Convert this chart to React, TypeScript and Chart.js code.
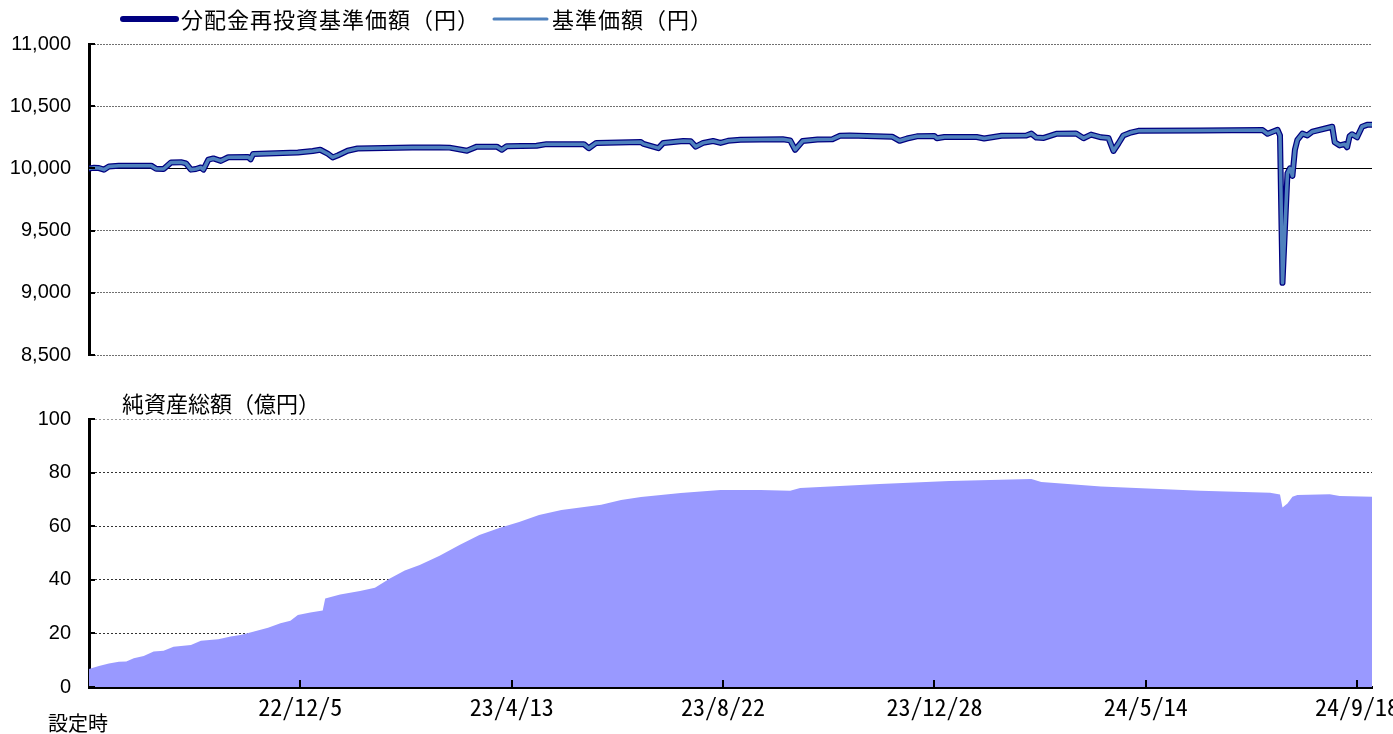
import React, { useEffect, useRef } from 'react';
import { Chart, registerables } from 'chart.js';

Chart.register(...registerables);

// ---------------- data ----------------
// x = business-day index from the fund's launch (設定時 = 0)
const tickDays = [85, 170, 255, 340, 425, 510];
const tickLabels = ['22/12/5', '23/4/13', '23/8/22', '23/12/28', '24/5/14', '24/9/18'];
const startLabel = '設定時';
const lastDay = 516;

const seriesNames = ['分配金再投資基準価額（円）', '基準価額（円）'];
const aumTitle = '純資産総額（億円）';

const navDays = [
  0, 2, 4, 6, 8, 12, 25, 27, 30, 33, 37, 39, 41, 43, 45, 46, 48, 50, 53, 56,
  64, 65, 66, 84, 90, 93, 96, 98, 100, 104, 108, 130, 141, 145, 152, 156, 164, 166, 168, 180,
  184, 199, 201, 204, 222, 223, 229, 231, 239, 242, 244, 247, 251, 254, 257, 262, 279, 282, 284, 287,
  293, 299, 302, 306, 323, 326, 329, 333, 340, 341, 344, 357, 360, 367, 377, 379, 381, 384, 389, 397,
  400, 403, 407, 410, 412, 414, 416, 419, 422, 447, 472, 474, 478, 479, 480, 482, 483, 484, 485, 486,
  488, 490, 492, 498, 500, 501, 503, 505, 506, 507, 508, 510, 512, 514, 516,
];

// 分配金再投資基準価額（円）
const reinvestedNav = [
  10000, 10005, 10003, 9990, 10015, 10022, 10022, 9997, 9995, 10048, 10050, 10040, 9990, 9995, 10008, 9990, 10070, 10080, 10060, 10090,
  10092, 10073, 10115, 10128, 10140, 10150, 10118, 10088, 10104, 10142, 10160, 10168, 10168, 10167, 10142, 10175, 10175, 10150, 10178, 10182,
  10195, 10195, 10162, 10205, 10212, 10197, 10163, 10205, 10220, 10218, 10175, 10205, 10220, 10205, 10222, 10230, 10235, 10225, 10150, 10220,
  10232, 10235, 10262, 10265, 10255, 10222, 10240, 10258, 10260, 10242, 10252, 10252, 10240, 10262, 10265, 10280, 10248, 10245, 10278, 10280,
  10242, 10272, 10250, 10245, 10140, 10200, 10265, 10288, 10302, 10305, 10308, 10278, 10310, 10265, 9080, 9960, 10000, 9940, 10150, 10230,
  10280, 10265, 10295, 10325, 10335, 10210, 10185, 10195, 10170, 10260, 10275, 10250, 10335, 10350, 10350,
];

// 基準価額（円）— no distributions paid, so it coincides with the reinvested series
const baseNav = [
  10000, 10005, 10003, 9990, 10015, 10022, 10022, 9997, 9995, 10048, 10050, 10040, 9990, 9995, 10008, 9990, 10070, 10080, 10060, 10090,
  10092, 10073, 10115, 10128, 10140, 10150, 10118, 10088, 10104, 10142, 10160, 10168, 10168, 10167, 10142, 10175, 10175, 10150, 10178, 10182,
  10195, 10195, 10162, 10205, 10212, 10197, 10163, 10205, 10220, 10218, 10175, 10205, 10220, 10205, 10222, 10230, 10235, 10225, 10150, 10220,
  10232, 10235, 10262, 10265, 10255, 10222, 10240, 10258, 10260, 10242, 10252, 10252, 10240, 10262, 10265, 10280, 10248, 10245, 10278, 10280,
  10242, 10272, 10250, 10245, 10140, 10200, 10265, 10288, 10302, 10305, 10308, 10278, 10310, 10265, 9080, 9960, 10000, 9940, 10150, 10230,
  10280, 10265, 10295, 10325, 10335, 10210, 10185, 10195, 10170, 10260, 10275, 10250, 10335, 10350, 10350,
];

const aumDays = [
  0, 4, 8, 12, 15, 18, 22, 26, 30, 34, 41, 45, 52, 57, 61, 66, 72, 77, 81, 84,
  89, 94, 95, 101, 109, 115, 121, 127, 133, 141, 149, 157, 165, 173, 181, 190, 206, 214, 222, 238,
  254, 270, 282, 286, 318, 346, 379, 383, 407, 447, 475, 479, 480, 482, 484, 486, 499, 503, 516,
];

// 純資産総額（億円）
const aumValues = [
  6.7, 7.8, 8.8, 9.4, 9.5, 10.7, 11.6, 13.2, 13.5, 15.0, 15.7, 17.3, 17.8, 18.8, 19.4, 20.6, 22.1, 23.8, 24.7, 26.9,
  27.8, 28.5, 33.0, 34.5, 35.8, 37.0, 40.5, 43.5, 45.5, 49.0, 53.0, 56.7, 59.3, 61.6, 64.2, 66.0, 68.0, 69.8, 70.9, 72.4,
  73.5, 73.5, 73.2, 74.3, 75.7, 76.9, 77.6, 76.5, 74.8, 73.2, 72.5, 71.8, 67.0, 68.5, 71.0, 71.6, 71.9, 71.3, 71.0,
];

// ---------------- styles ----------------
const FONT_NUM = "'Liberation Sans', Arial, sans-serif";
const FONT_JP = "'Noto Sans CJK JP', 'Noto Sans CJK SC', sans-serif";
const FONT_DATE = "'Noto Sans Mono CJK JP', 'DejaVu Sans Mono', monospace";
const NAVY = '#000080';
const BLUE = '#4F81BD';
const AREA = '#9999FF';

const toPoints = (xs: number[], ys: number[]) => xs.map((x, i) => ({ x, y: ys[i] }));

const legendPlugin = {
  id: 'customLegend',
  afterDraw(chart: any) {
    const { ctx } = chart;
    const items = [
      { text: seriesNames[0], color: NAVY, width: 6 },
      { text: seriesNames[1], color: BLUE, width: 3 },
    ];
    ctx.save();
    ctx.font = `22px ${FONT_JP}`;
    try {
      (ctx as any).letterSpacing = '1px';
    } catch (e) {}
    ctx.textBaseline = 'middle';
    ctx.fillStyle = '#000';
    let x = 123;
    const y = 19;
    items.forEach((it) => {
      ctx.strokeStyle = it.color;
      ctx.lineWidth = it.width;
      ctx.lineCap = 'round';
      ctx.beginPath();
      ctx.moveTo(x, y);
      ctx.lineTo(x + 53, y);
      ctx.stroke();
      const tx = x + 58;
      ctx.fillText(it.text, tx, y + 1);
      x = tx + ctx.measureText(it.text).width + 14;
    });
    ctx.restore();
  },
};

const baselinePlugin = {
  id: 'baseline10000',
  beforeDatasetsDraw(chart: any) {
    const { ctx, chartArea, scales } = chart;
    const py = Math.round(scales.y.getPixelForValue(10000)) + 0.5;
    ctx.save();
    ctx.strokeStyle = '#000';
    ctx.lineWidth = 1.2;
    ctx.beginPath();
    ctx.moveTo(chartArea.left, py);
    ctx.lineTo(chartArea.right, py);
    ctx.stroke();
    ctx.restore();
  },
};

const innerTicksPlugin = {
  id: 'innerTicks',
  afterDraw(chart: any) {
    const { ctx, chartArea, scales } = chart;
    ctx.save();
    ctx.strokeStyle = '#000';
    ctx.lineWidth = 2;
    scales.y.ticks.forEach((t: any) => {
      const py = Math.round(scales.y.getPixelForValue(t.value));
      ctx.beginPath();
      ctx.moveTo(chartArea.left, py);
      ctx.lineTo(chartArea.left + 6, py);
      ctx.stroke();
    });
    if (scales.x.options.display) {
      tickDays.forEach((d) => {
        const px = Math.round(scales.x.getPixelForValue(d));
        ctx.beginPath();
        ctx.moveTo(px, chartArea.bottom);
        ctx.lineTo(px, chartArea.bottom - 7);
        ctx.stroke();
      });
    }
    ctx.restore();
  },
};

const bottomTextPlugin = {
  id: 'bottomTexts',
  afterDraw(chart: any) {
    const { ctx } = chart;
    ctx.save();
    ctx.fillStyle = '#000';
    ctx.textBaseline = 'middle';
    ctx.font = `22px ${FONT_JP}`;
    ctx.textAlign = 'left';
    ctx.fillText(aumTitle, 122, 19);
    ctx.font = `20px ${FONT_JP}`;
    ctx.textAlign = 'center';
    ctx.fillText(startLabel, 78, 338);
    ctx.restore();
  },
};

function topConfig(): any {
  return {
    type: 'line',
    data: {
      datasets: [
        {
          label: seriesNames[0],
          data: toPoints(navDays, reinvestedNav),
          borderColor: NAVY,
          borderWidth: 6,
          pointRadius: 0,
          fill: false,
          tension: 0,
          borderJoinStyle: 'round',
          borderCapStyle: 'round',
          order: 2,
        },
        {
          label: seriesNames[1],
          data: toPoints(navDays, baseNav),
          borderColor: BLUE,
          borderWidth: 3.5,
          pointRadius: 0,
          fill: false,
          tension: 0,
          borderJoinStyle: 'round',
          borderCapStyle: 'round',
          order: 1,
        },
      ],
    },
    options: {
      responsive: false,
      animation: false,
      events: [],
      layout: { padding: { left: 0, right: 21, top: 44, bottom: 18 } },
      plugins: { legend: { display: false }, tooltip: { enabled: false }, title: { display: false } },
      scales: {
        x: { type: 'linear', display: false, min: 0, max: lastDay },
        y: {
          min: 8500,
          max: 11000,
          ticks: {
            stepSize: 500,
            padding: 18,
            color: '#000',
            font: { family: FONT_NUM, size: 20 },
            callback: (v: any) => Number(v).toLocaleString('en-US'),
          },
          grid: { color: '#707070', lineWidth: 1, drawTicks: false },
          border: { display: true, color: '#000', width: 3, dash: [2, 1] },
          afterFit: (s: any) => {
            s.width = 89;
          },
        },
      },
    },
    plugins: [baselinePlugin, innerTicksPlugin, legendPlugin],
  };
}

function bottomConfig(): any {
  return {
    type: 'line',
    data: {
      datasets: [
        {
          label: aumTitle,
          data: toPoints(aumDays, aumValues),
          borderColor: 'rgba(0,0,0,0)',
          borderWidth: 0,
          backgroundColor: AREA,
          pointRadius: 0,
          fill: 'origin',
          tension: 0,
        },
      ],
    },
    options: {
      responsive: false,
      animation: false,
      events: [],
      layout: { padding: { left: 0, right: 21, top: 34, bottom: 0 } },
      plugins: { legend: { display: false }, tooltip: { enabled: false }, title: { display: false } },
      scales: {
        x: {
          type: 'linear',
          min: 0,
          max: lastDay,
          grid: { display: false, drawTicks: false },
          border: { display: true, color: '#000', width: 3 },
          ticks: {
            autoSkip: false,
            maxRotation: 0,
            padding: 5,
            color: '#000',
            font: { family: FONT_DATE, size: 24 },
            callback: (v: any) => {
              const i = tickDays.indexOf(Number(v));
              return i >= 0 ? tickLabels[i] : '';
            },
          },
          afterBuildTicks: (s: any) => {
            s.ticks = tickDays.map((v) => ({ value: v }));
          },
          afterFit: (s: any) => {
            s.height = 47;
            s.paddingLeft = 0;
            s.paddingRight = 0;
          },
        },
        y: {
          min: 0,
          max: 100,
          ticks: {
            stepSize: 20,
            padding: 18,
            color: '#000',
            font: { family: FONT_NUM, size: 20 },
          },
          grid: {
            color: (c: any) => (c.tick && c.tick.value === 100 ? '#999999' : '#333333'),
            lineWidth: 1,
            drawTicks: false,
          },
          border: { display: true, color: '#000', width: 3, dash: [2, 2] },
          afterFit: (s: any) => {
            s.width = 89;
          },
        },
      },
    },
    plugins: [innerTicksPlugin, bottomTextPlugin],
  };
}

export default function App() {
  const topRef = useRef<HTMLCanvasElement>(null);
  const bottomRef = useRef<HTMLCanvasElement>(null);

  useEffect(() => {
    const c1 = new Chart(topRef.current as HTMLCanvasElement, topConfig());
    const c2 = new Chart(bottomRef.current as HTMLCanvasElement, bottomConfig());
    return () => {
      c1.destroy();
      c2.destroy();
    };
  }, []);

  return (
    <div
      style={{
        position: 'absolute',
        left: 0,
        top: 0,
        width: 1393,
        height: 734,
        background: '#fff',
        overflow: 'hidden',
      }}
    >
      <canvas ref={topRef} width={1393} height={385} style={{ position: 'absolute', left: 0, top: 0 }} />
      <canvas ref={bottomRef} width={1393} height={349} style={{ position: 'absolute', left: 0, top: 385 }} />
    </div>
  );
}
